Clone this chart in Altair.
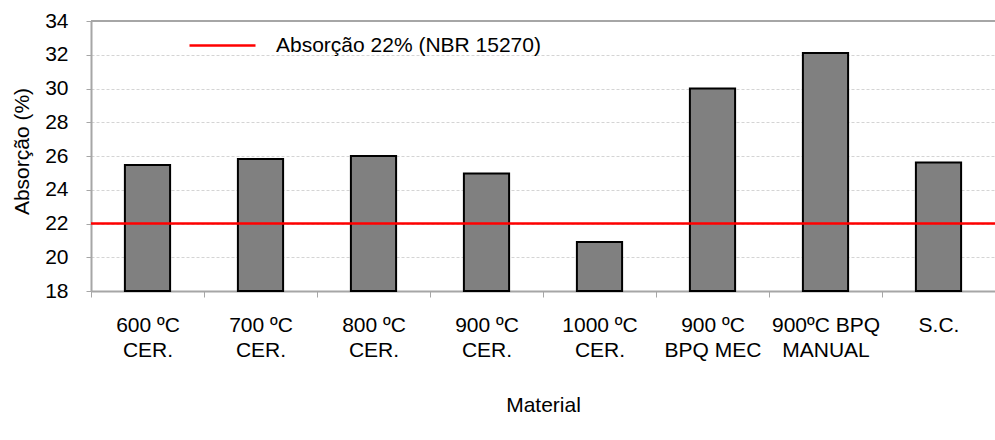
import altair as alt
import pandas as pd

# Water absorption per material, with the NBR 15270 limit
materiais = [
    "600 ºC\nCER.",
    "700 ºC\nCER.",
    "800 ºC\nCER.",
    "900 ºC\nCER.",
    "1000 ºC\nCER.",
    "900 ºC\nBPQ MEC",
    "900ºC BPQ\nMANUAL",
    "S.C.",
]
absorcao = [25.46, 25.82, 26.0, 24.97, 20.9, 30.0, 32.1, 25.62]

limite_nbr = 22
limite_nome = "Absorção 22% (NBR 15270)"

y_min, y_max = 18, 34
y_ticks = list(range(y_min, y_max + 1, 2))

FONT = "Liberation Sans"
FS = 21
GRAY = "#a6a6a6"

df = pd.DataFrame({"Material": materiais, "Absorcao": absorcao})
df_limite = pd.DataFrame({"Limite": [limite_nbr], "Nome": [limite_nome]})

y_scale = alt.Scale(domain=[y_min, y_max], nice=False, zero=False)
y_axis = alt.Axis(
    values=y_ticks,
    tickCount=len(y_ticks),
    labelFont=FONT,
    labelFontSize=FS,
    labelPadding=18,
    labelColor="#000000",
    labelOverlap=False,
    labelBound=False,
    labelFlush=False,
    tickSize=5,
    tickColor=GRAY,
    domainColor=GRAY,
    domainWidth=2,
    grid=True,
    gridColor="#d4d4d4",
    gridDash=[3, 2],
    titleFont=FONT,
    titleFontSize=FS,
    titleFontWeight="normal",
    titleColor="#000000",
    titleX=-69,
    titleY=130,
    titleBaseline="middle",
)

# Full-width bands so the category ticks fall on the band edges; bars take 40% of each band
bars = alt.Chart(df).mark_bar(
    fill="#808080", stroke="#000000", strokeWidth=2, width={"band": 0.4}
).encode(
    x=alt.X(
        "Material:N",
        sort=materiais,
        title="Material",
        scale=alt.Scale(paddingInner=0, paddingOuter=0),
        axis=alt.Axis(
            labelAngle=0,
            labelExpr="split(datum.label, '\\n')",
            labelFont=FONT,
            labelFontSize=FS,
            labelLineHeight=25,
            labelPadding=17,
            labelColor="#000000",
            labelLimit=300,
            labelOverlap=False,
            tickBand="extent",
            tickSize=6,
            tickColor=GRAY,
            domainColor=GRAY,
            domainWidth=2,
            grid=False,
            titleFont=FONT,
            titleFontSize=FS,
            titleFontWeight="normal",
            titleColor="#000000",
            titleBaseline="middle",
            titleY=114,
        ),
    ),
    y=alt.Y("Absorcao:Q", title="Absorção (%)", scale=y_scale, axis=y_axis),
    y2=alt.datum(y_min),
)

limite = alt.Chart(df_limite).mark_rule(strokeWidth=2.5).encode(
    y=alt.Y("Limite:Q", title="Absorção (%)", scale=y_scale, axis=y_axis),
    color=alt.Color(
        "Nome:N",
        scale=alt.Scale(range=["#ff0000"]),
        legend=alt.Legend(
            title=None,
            orient="none",
            legendX=97,
            legendY=-10,
            padding=0,
            symbolType="stroke",
            symbolSize=4356,
            symbolStrokeWidth=2.5,
            labelFont=FONT,
            labelFontSize=FS,
            labelColor="#000000",
            labelOffset=19,
            labelLimit=400,
        ),
    ),
)

borda_topo = alt.Chart(df_limite).mark_rule(color=GRAY, strokeWidth=2).encode(
    y=alt.datum(y_max, scale=y_scale, axis=y_axis, title="Absorção (%)")
)

chart = (
    alt.layer(bars, limite, borda_topo)
    .properties(
        width=904,
        height=270,
        autosize=alt.AutoSizeParams(type="none"),
        padding={"left": 91, "top": 21, "right": 0, "bottom": 149},
        background="#ffffff",
    )
    .configure_view(stroke=None)
)

chart.save("out.html", embed_options={"renderer": "svg", "actions": False})
